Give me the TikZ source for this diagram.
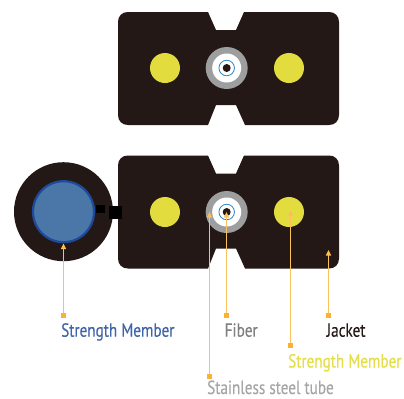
\documentclass[tikz,border=0pt]{standalone}
\usepackage{fontspec}
\setmainfont[FakeStretch=0.80,FakeBold=0.25]{PT Sans}
\usetikzlibrary{arrows.meta}
\definecolor{jk}{HTML}{231815}
\definecolor{ylw}{HTML}{E2DC3F}
\definecolor{tube}{HTML}{9C9E9F}
\definecolor{lead}{HTML}{F9C25C}
\definecolor{sqc}{HTML}{F9B233}
\definecolor{smb}{HTML}{4A76A8}
\definecolor{smr}{HTML}{1E4A9A}
\definecolor{fbl}{HTML}{2B84C6}
\tikzset{
  x=1bp,y=-1bp,
  disc/.style={circle,inner sep=0pt,minimum size=#1,draw=none},
  jacket/.style={fill=jk,draw=none},
  sm/.style={disc=30bp,fill=ylw},
  st/.style={disc=42bp,fill=tube},
  wh/.style={disc=29bp,fill=white},
  fb/.style={circle,inner sep=0pt,minimum size=15.5bp,draw=fbl,line width=0.8bp,fill=white},
  co/.style={disc=8bp,fill=jk},
  sq/.style={rectangle,inner sep=0pt,minimum size=4.6bp,fill=sqc},
  lbl/.style={anchor=base west,inner sep=0pt,font=\fontsize{19bp}{21bp}\selectfont},
  leader/.style={draw=lead,line width=1.1bp,-{Triangle[length=5.5bp,width=5bp,fill=sqc]}},
  blk/.style={rectangle,inner sep=0pt,fill=black},
}
\newcommand{\jacketpath}[1]{%
  \fill[jacket,shift={(0,#1)}] (208,12) -- (216,30) -- (236,30) -- (244,12)
    -- (329,12) .. controls (335,12) and (339,16) .. (339,22)
    -- (339,115) .. controls (339,121) and (335,125) .. (329,125)
    -- (245,125) -- (236,105) -- (216,105) -- (208,125)
    -- (128,125) .. controls (122,125) and (118,121) .. (118,115)
    -- (118,22) .. controls (118,16) and (122,12) .. (128,12) -- cycle;}
\begin{document}
\begin{tikzpicture}
\useasboundingbox (0,0) rectangle (404,399);
% top cable
\jacketpath{0}
\node[sm] (tl) at (165,68) {};
\node[sm] (tr) at (289,68) {};
\node[st] (ts) at (226.7,68) {};
\node[wh] (tw) at (226.7,68) {};
\node[fb] (tf) at (226.7,68) {};
\node[co] (tc) at (226.7,68) {};
% bottom cable
\jacketpath{143.5}
\node[disc=99bp,fill=jk] (round) at (63.5,211.7) {};
\node[circle,inner sep=0pt,minimum size=61bp,fill=smb,draw=smr,line width=2.2bp] (rm) at (63.5,211.7) {};
\node[blk,minimum width=9bp,minimum height=8bp] (b1) at (100.5,209) {};
\node[blk,minimum width=13bp,minimum height=12.6bp] (b2) at (115.5,212.3) {};
\node[sm] (bl) at (165,212) {};
\node[sm] (br) at (289,212) {};
\node[st] (bs) at (226.7,212) {};
\node[wh] (bw) at (226.7,212) {};
\node[fb] (bf) at (226.7,212) {};
\node[co] (bc) at (226.7,212) {};
% label squares and targets
\node[sq] (s1) at (63.5,315.4) {};
\node[sq] (s2) at (226.5,315.4) {};
\node[sq] (s3) at (209.5,376.5) {};
\node[sq] (s4) at (290.5,345.4) {};
\node[sq] (s5) at (328.5,315.4) {};
\coordinate (t1) at (63.5,243.5);
\coordinate (t2) at (226.5,212);
\coordinate (t3) at (209.5,212);
\coordinate (t4) at (290.5,210);
\coordinate (t5) at (328.5,250);
\draw[leader] (s1) -- (t1);
\draw[leader] (s2) -- (t2);
\draw[leader] (s3) -- (t3);
\draw[leader] (s4) -- (t4);
\draw[leader] (s5) -- (t5);
% labels
\node[lbl,text=smr!85!white] (l1) at (61,336.7) {Strength Member};
\node[lbl,text=black!50] (l2) at (224.5,336.7) {Fiber};
\node[lbl,text=black!35] (l3) at (207,394) {Stainless steel tube};
\node[lbl,text=ylw!95!white] (l4) at (288,367.5) {Strength Member};
\node[lbl,text=jk] (l5) at (326.5,336.7) {Jacket};
\end{tikzpicture}
\end{document}
